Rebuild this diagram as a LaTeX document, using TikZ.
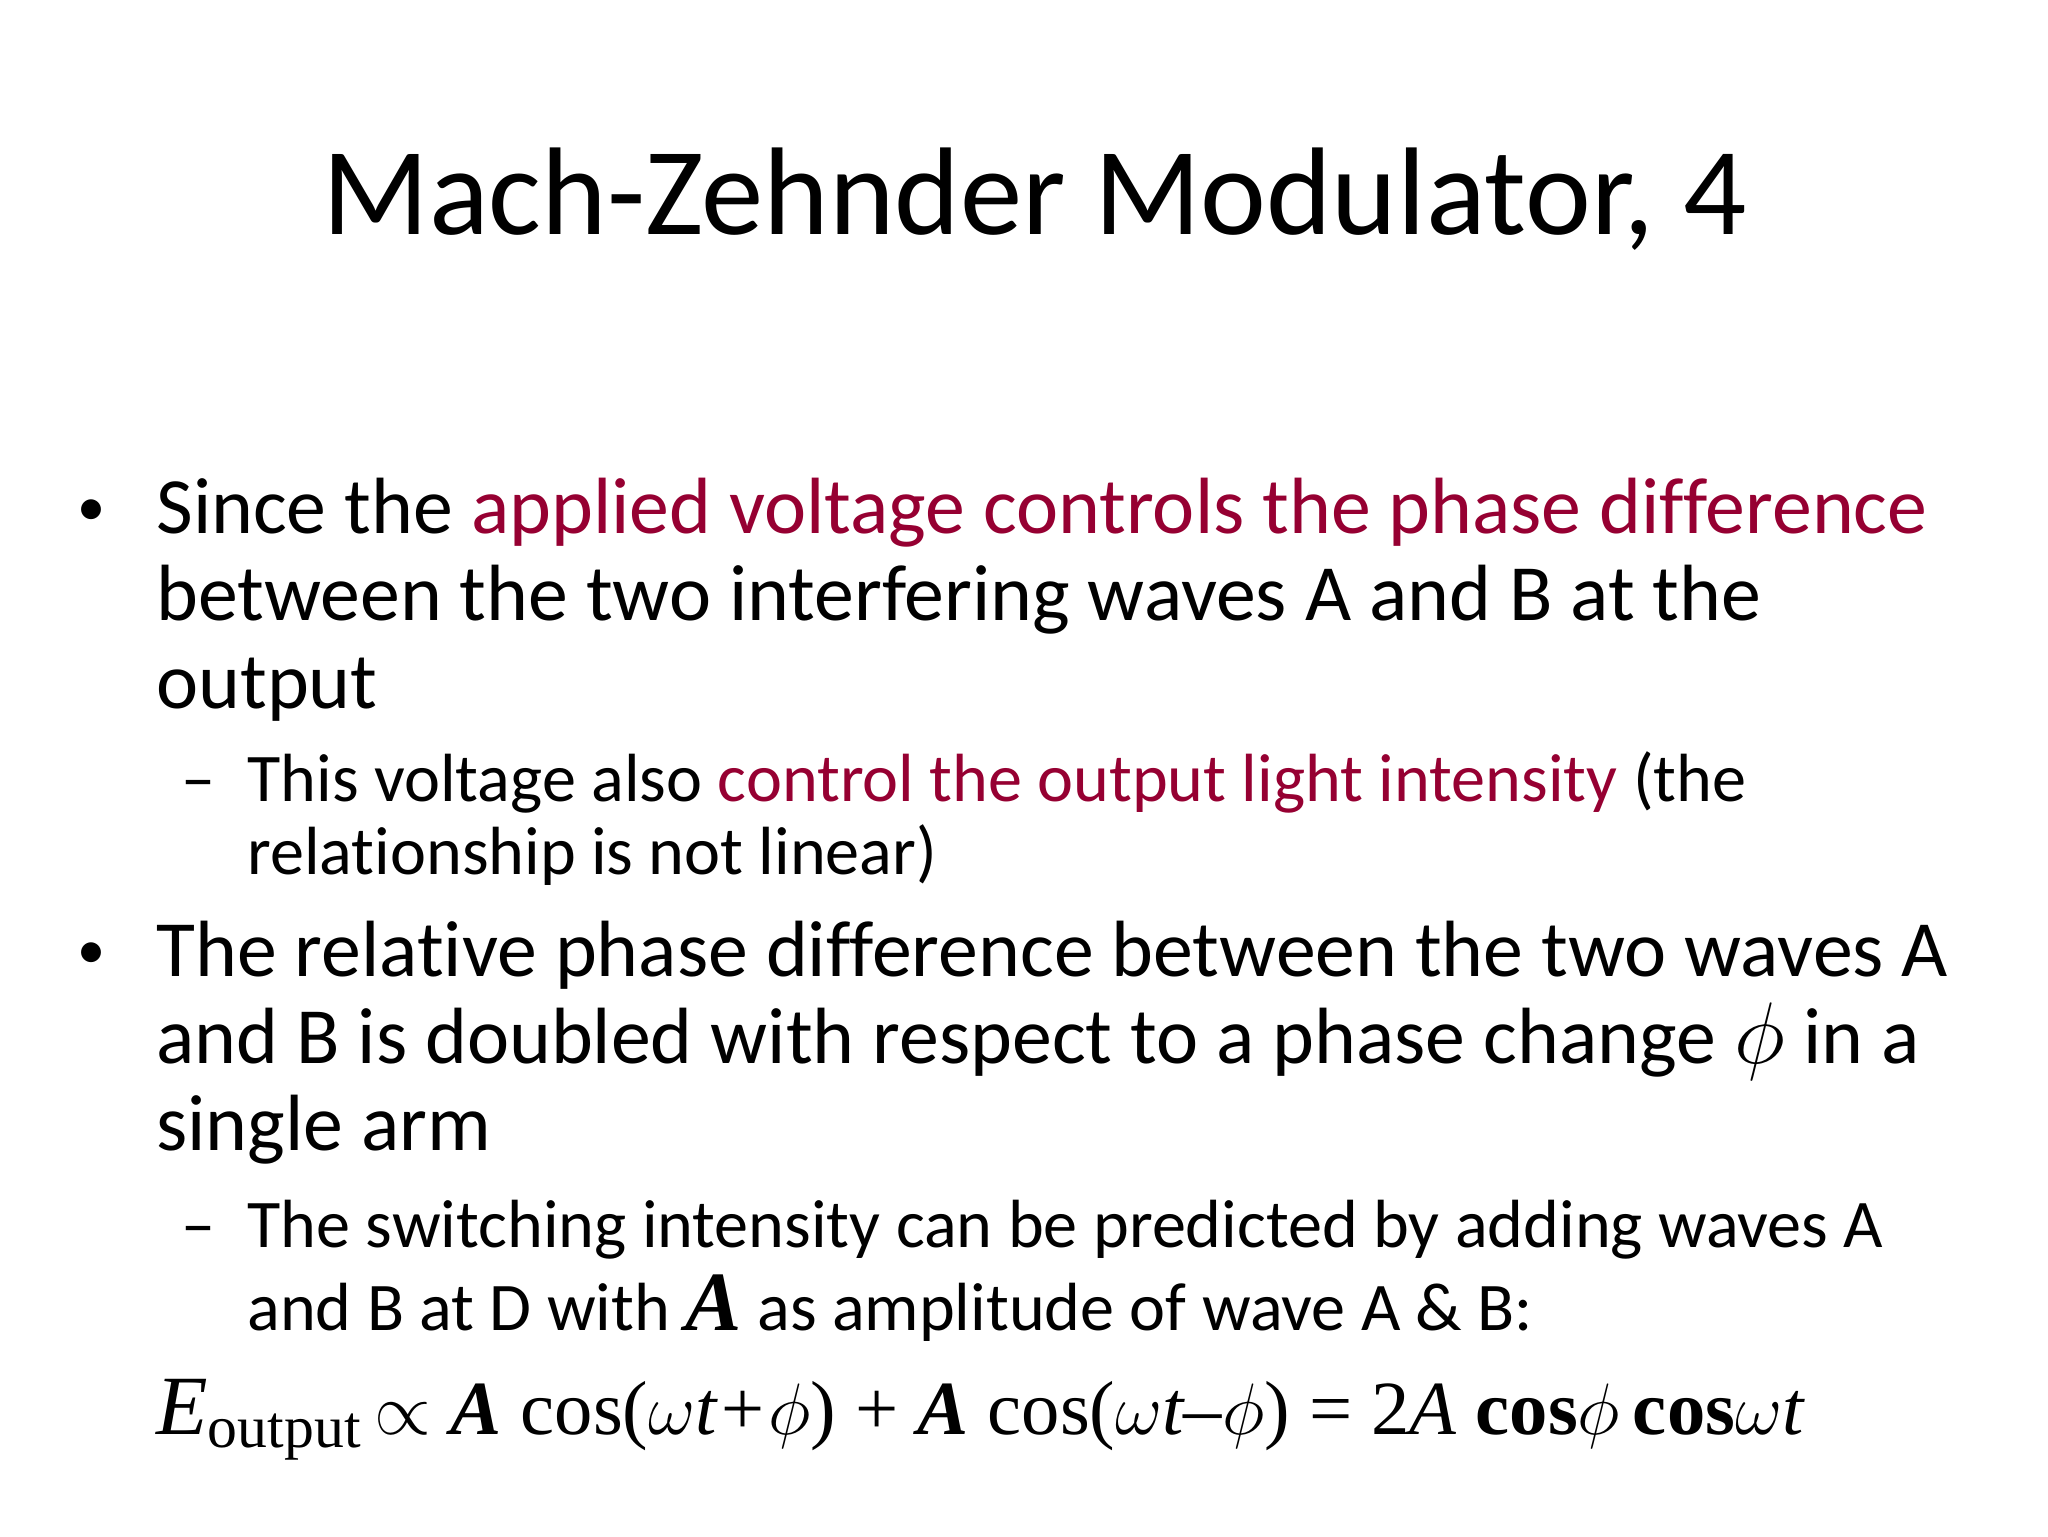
\documentclass[tikz,border=0pt]{standalone}
\usepackage{fontspec}
\setmainfont[Ligatures={NoCommon}]{Carlito}
\newfontfamily\tms{Liberation Serif}
\definecolor{accent}{RGB}{150,0,50}
\begin{document}
\begin{tikzpicture}[x=0.013196cm,y=-0.013196cm,
  ttl/.style={font=\fontsize{35.5}{40}\selectfont,anchor=base},
  big/.style={font=\fontsize{22.7}{26}\selectfont,anchor=base west,inner sep=0},
  small/.style={font=\fontsize{19.4}{22}\selectfont,anchor=base west,inner sep=0},
  eq/.style={font=\tms\fontsize{21.8}{26}\selectfont,anchor=base west,inner sep=0}]
\useasboundingbox (0,0) rectangle (1552,1164);
\fill[white] (0,0) rectangle (1552,1164);
\node[ttl] (title) at (784,178) {Mach-Zehnder Modulator, 4};
\node[big] (b1) at (58,398) {\fontsize{16}{18}\selectfont •};
\node[big] (l1) at (118,404) {Since the \textcolor{accent}{applied voltage controls the phase difference}};
\node[big] (l2) at (118,470) {between the two interfering waves A and B at the};
\node[big] (l3) at (118,537) {output};
\node[small] (d1) at (137,607) {–};
\node[small] (s1) at (187,607) {This voltage also \textcolor{accent}{control the output light intensity} (the};
\node[small] (s2) at (187,663) {relationship is not linear)};
\node[big] (b2) at (58,734) {\fontsize{16}{18}\selectfont •};
\node[big] (m1) at (118,740) {The relative phase difference between the two waves A};
\node[big] (m2) at (118,806) {and B is doubled with respect to a phase change {\tms\itshape\fontsize{25}{28}\selectfont$\phi$} in a};
\node[big] (m3) at (118,872) {single arm};
\node[small] (d2) at (137,945) {–};
\node[small] (t1) at (187,945) {The switching intensity can be predicted by adding waves A};
\node[small] (t2) at (187,1008) {and B at D with {\tms\bfseries\itshape\fontsize{24}{28}\selectfont A} as amplitude of wave A \& B:};
\node[eq] (eqn) at (118,1087) {\itshape\fontsize{24}{28}\selectfont E\raisebox{-0.35ex}{\upshape\fontsize{17}{20}\selectfont output}\,\fontsize{21.8}{26}\selectfont$\propto$ \textbf{A} \upshape cos(\itshape$\omega$t+$\phi$\upshape) + \textbf{\itshape A} cos(\itshape$\omega$t–$\phi$\upshape) = 2\itshape A \upshape\textbf{cos}\itshape$\phi$\,\upshape\textbf{cos}\itshape$\omega$t};
\end{tikzpicture}
\end{document}
